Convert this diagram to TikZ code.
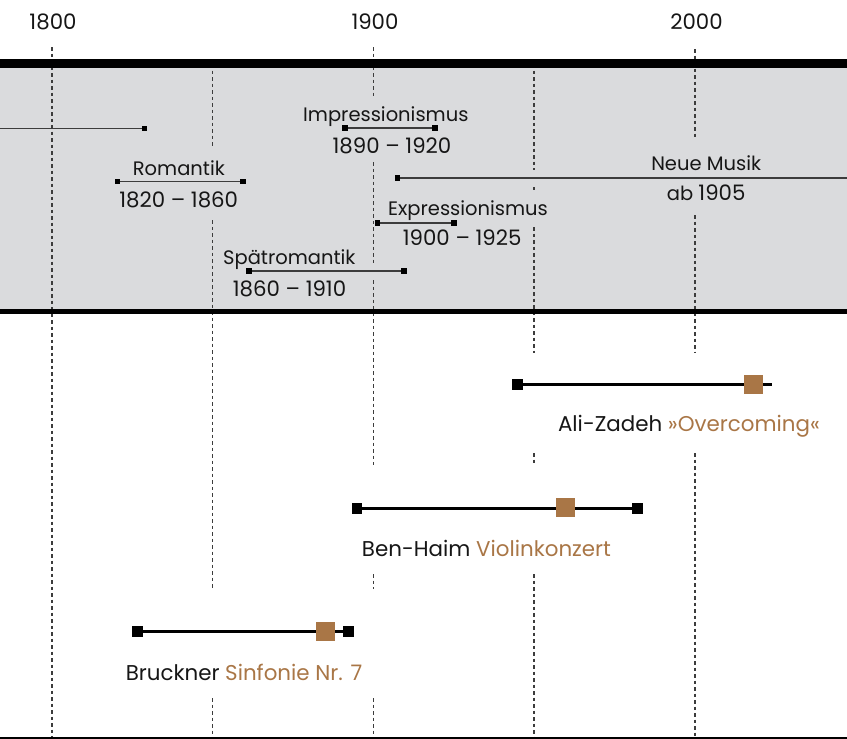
\documentclass[tikz,border=0pt]{standalone}
\usepackage{fontspec}
\setmainfont{Poppins}
\pgfdeclarelayer{back}
\pgfdeclarelayer{mid}
\pgfsetlayers{back,mid,main}
\definecolor{bandgray}{HTML}{DADBDD}
\definecolor{ink}{HTML}{161616}
\definecolor{gridc}{HTML}{3C3C3C}
\definecolor{brownc}{HTML}{A97646}
\tikzset{
  lbl/.style={font=\fontsize{19.5}{24}\selectfont, text=ink, inner sep=0pt, anchor=base},
  numlbl/.style={lbl, font=\fontsize{21.3}{24}\selectfont},
  worklbl/.style={lbl, font=\fontsize{21.4}{24}\selectfont},
  gridline/.style={draw=gridc, line width=1.3pt, dash pattern=on 3.5pt off 3pt},
  periodmk/.style={rectangle, fill=black, minimum size=5.5pt, inner sep=0pt},
  periodline/.style={draw=gridc, line width=1.4pt},
  endmk/.style={rectangle, fill=black, minimum size=10.5pt, inner sep=0pt},
  workmk/.style={rectangle, fill=brownc, minimum size=19pt, inner sep=0pt},
  lifeline/.style={draw=black, line width=2.7pt},
}
\begin{document}
\begin{tikzpicture}[x=1pt,y=-1pt]
\useasboundingbox (0,0) rectangle (847,739);

% year labels
\node[numlbl] (y1800) at (53,29.3) {1800};
\node[numlbl] (y1900) at (375,29.3) {1900};
\node[numlbl] (y2000) at (696.5,29.3) {2000};

% band, gridlines, rules
\begin{pgfonlayer}{back}
  \fill[bandgray] (0,63.5) rectangle (847,311.5);
  \foreach \x/\a/\b in {
      52/47/737,
      212.5/64/147, 212.5/220/589, 212.5/698/737,
      373.3/47/97, 373.3/162/263, 373.3/280/465, 373.3/574/589, 373.3/698/737,
      534/64/170, 534/187/190, 534/227/353, 534/453/465, 534/574/737,
      695/49/137, 695/215/353, 695/453/737}
    \draw[gridline] (\x,\a) -- (\x,\b);
  \draw[line width=8.5pt] (0,63.5) -- (847,63.5);
  \draw[line width=5pt] (0,311.5) -- (847,311.5);
  \draw[line width=3pt] (0,738) -- (847,738);
\end{pgfonlayer}

% ---- periods in the band ----
\coordinate (kl-s) at (0,128.3);
\node[periodmk] (kl-e) at (144.5,128.3) {};

\node[periodmk] (ro-s) at (117.7,181.7) {};
\node[periodmk] (ro-e) at (243,181.7) {};
\node[lbl] (ro-t) at (178.9,175) {Romantik};
\node[numlbl] (ro-d) at (178.7,207.3) {1820 – 1860};

\node[periodmk] (sr-s) at (249,271) {};
\node[periodmk] (sr-e) at (404,271) {};
\node[lbl] (sr-t) at (289.3,264.5) {Spätromantik};
\node[numlbl] (sr-d) at (289.5,296) {1860 – 1910};

\node[periodmk] (im-s) at (345,127.8) {};
\node[periodmk] (im-e) at (435,127.8) {};
\node[lbl] (im-t) at (385.8,121.7) {Impressionismus};
\node[numlbl] (im-d) at (392,153.3) {1890 – 1920};

\node[periodmk] (nm-s) at (397.7,177.8) {};
\coordinate (nm-e) at (847,177.8);
\node[lbl] (nm-t) at (706.2,170) {Neue Musik};
\node[lbl] (nm-d) at (706.2,200.7) {ab \fontsize{21.3}{24}\selectfont 1905};

\node[periodmk] (ex-s) at (377.7,222.8) {};
\node[periodmk] (ex-e) at (454,222.8) {};
\node[lbl] (ex-t) at (468,215) {Expressionismus};
\node[numlbl] (ex-d) at (462.2,245.7) {1900 – 1925};

% ---- composers ----
\node[endmk] (az-s) at (517.5,384.7) {};
\coordinate (az-e) at (771.7,384.7);
\node[workmk] (az-w) at (753.5,384.5) {};
\node[worklbl] (az-t) at (689,431.7) {Ali-Zadeh \textcolor{brownc}{»Overcoming«}};

\node[endmk] (bh-s) at (357,508.3) {};
\node[endmk] (bh-e) at (637.7,508.3) {};
\node[workmk] (bh-w) at (565.5,507.5) {};
\node[worklbl] (bh-t) at (486.5,556.7) {Ben-Haim \textcolor{brownc}{Violinkonzert}};

\node[endmk] (br-s) at (137.7,631.7) {};
\node[endmk] (br-e) at (348.7,631.7) {};
\node[workmk] (br-w) at (325.5,631) {};
\node[worklbl] (br-t) at (244,680) {Bruckner \textcolor{brownc}{Sinfonie Nr. 7}};

\begin{pgfonlayer}{mid}
  \draw[periodline] (kl-s) -- (kl-e.center);
  \draw[periodline] (ro-s.center) -- (ro-e.center);
  \draw[periodline] (sr-s.center) -- (sr-e.center);
  \draw[periodline] (im-s.center) -- (im-e.center);
  \draw[periodline] (nm-s.center) -- (nm-e);
  \draw[periodline] (ex-s.center) -- (ex-e.center);
  \draw[lifeline] (az-s.center) -- (az-e);
  \draw[lifeline] (bh-s.center) -- (bh-e.center);
  \draw[lifeline] (br-s.center) -- (br-e.center);
\end{pgfonlayer}
\end{tikzpicture}
\end{document}
